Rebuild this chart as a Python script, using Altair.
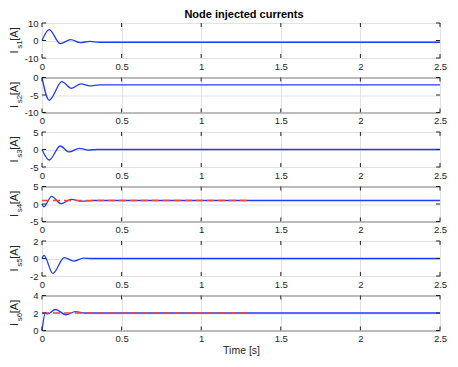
import altair as alt
import pandas as pd

# ---- data ----
xticks = [0, 0.5, 1, 1.5, 2, 2.5]

s1_t = [0, 0.045, 0.115, 0.18, 0.24, 0.30, 0.36, 0.6, 1.0, 1.5, 2.0, 2.5]
s1_v = [0, 6.2, -1.8, 0.5, -1.2, -0.5, -1.0, -1.0, -1.0, -1.0, -1.0, -1.0]

s2_t = [0, 0.045, 0.125, 0.185, 0.245, 0.30, 0.36, 0.6, 1.0, 1.5, 2.0, 2.5]
s2_v = [0, -6.5, -1.2, -3.1, -1.8, -2.4, -2.1, -2.1, -2.1, -2.1, -2.1, -2.1]

s3_t = [0, 0.045, 0.115, 0.17, 0.235, 0.29, 0.35, 0.6, 1.0, 1.5, 2.0, 2.5]
s3_v = [0, -3.0, 1.0, -0.7, 0.35, -0.15, 0.0, 0.0, 0.0, 0.0, 0.0, 0.0]

s4_t = [0, 0.012, 0.06, 0.12, 0.185, 0.25, 0.32, 0.6, 1.0, 1.5, 2.0, 2.5]
s4_v = [0, -0.8, 2.2, 0.1, 1.3, 0.8, 1.0, 1.0, 1.0, 1.0, 1.0, 1.0]
r4_t = [0, 1.3]
r4_v = [1.0, 1.0]

s5_t = [0, 0.012, 0.068, 0.14, 0.2, 0.26, 0.32, 0.6, 1.0, 1.5, 2.0, 2.5]
s5_v = [0, 0.35, -1.7, 0.1, -0.3, 0.05, 0.0, 0.0, 0.0, 0.0, 0.0, 0.0]

s6_t = [0, 0.022, 0.035, 0.085, 0.15, 0.21, 0.27, 0.6, 1.0, 1.5, 2.0, 2.5]
s6_v = [0, 2.05, 1.9, 2.4, 1.8, 2.15, 2.0, 2.0, 2.0, 2.0, 2.0, 2.0]
r6_t = [0, 1.3]
r6_v = [2.0, 2.0]

subs = ["s1", "s2", "s3", "s4", "s5", "s6"]
ydomains = [[-10, 10], [-10, 0], [-5, 5], [-5, 5], [-2, 2], [0, 4]]
yticks = [[-10, 0, 10], [-10, -5, 0], [-5, 0, 5], [-5, 0, 5], [-2, 0, 2], [0, 2, 4]]
series = [(s1_t, s1_v, None), (s2_t, s2_v, None), (s3_t, s3_v, None),
          (s4_t, s4_v, (r4_t, r4_v)), (s5_t, s5_v, None), (s6_t, s6_v, (r6_t, r6_v))]

# ---- style ----
W, H = 398, 35
FONT = "Liberation Sans"
TXT = "#262626"
BLUE = "#1f3cff"
RED = "#f0453a"
GRID = "#e2e2e2"
TICK = 4


def panel(i):
    t, v, red = series[i]
    last = i == len(series) - 1
    xaxis = alt.Axis(values=xticks, grid=True, gridColor=GRID, domain=False, ticks=False,
                     labelExpr="'' + datum.value", labelFlush=False, labelOverlap=False,
                     labelPadding=3, labelFontSize=9.5, labelColor=TXT,
                     title="Time [s]" if last else None, titleFontSize=10.5,
                     titleFontWeight="normal", titleColor=TXT, titlePadding=2)
    yaxis = alt.Axis(values=yticks[i], grid=True, gridColor=GRID, domain=False, ticks=False,
                     labelExpr="'' + datum.value", labelFlush=False, labelOverlap=False,
                     labelPadding=4, labelFontSize=9.5, labelColor=TXT, title=None)
    X = alt.X("t:Q", scale=alt.Scale(domain=[0, 2.5], nice=False, zero=False), axis=xaxis)
    Y = alt.Y("v:Q", scale=alt.Scale(domain=ydomains[i], nice=False, zero=False), axis=yaxis)

    layers = []
    layers.append(alt.Chart(pd.DataFrame({"t": t, "v": v})).mark_line(
        color=BLUE, strokeWidth=1.3, interpolate="monotone").encode(x=X, y=Y))
    if red is not None:
        layers.append(alt.Chart(pd.DataFrame({"t": red[0], "v": red[1]})).mark_line(
            color=RED, strokeWidth=1.5, strokeDash=[7, 4]).encode(x=X, y=Y))

    xt = pd.DataFrame({"t": xticks})
    yt = pd.DataFrame({"v": yticks[i]})
    layers.append(alt.Chart(xt).mark_rule(color=TXT, strokeWidth=1).encode(
        x=X, y=alt.value(H), y2=alt.value(H - TICK)))
    layers.append(alt.Chart(xt).mark_rule(color=TXT, strokeWidth=1).encode(
        x=X, y=alt.value(0), y2=alt.value(TICK)))
    layers.append(alt.Chart(yt).mark_rule(color=TXT, strokeWidth=1).encode(
        y=Y, x=alt.value(0), x2=alt.value(TICK)))
    layers.append(alt.Chart(yt).mark_rule(color=TXT, strokeWidth=1).encode(
        y=Y, x=alt.value(W - TICK), x2=alt.value(W)))

    one = pd.DataFrame({"a": [0]})
    c = H / 2
    layers.append(alt.Chart(one).mark_text(text="I", angle=270, fontSize=11, font=FONT,
                                           color=TXT).encode(x=alt.value(-27), y=alt.value(c + 11.5)))
    layers.append(alt.Chart(one).mark_text(text=subs[i], angle=270, fontSize=8, font=FONT,
                                           color=TXT).encode(x=alt.value(-22.5), y=alt.value(c + 4)))
    layers.append(alt.Chart(one).mark_text(text="[A]", angle=270, fontSize=11, font=FONT,
                                           color=TXT).encode(x=alt.value(-27), y=alt.value(c - 6.5)))
    if i == 0:
        layers.append(alt.Chart(one).mark_text(text="Node injected currents", fontSize=11,
                                               fontWeight="bold", font=FONT, color="black").encode(
            x=alt.value(W / 2 + 3), y=alt.value(-8)))
    return alt.layer(*layers).properties(width=W, height=H)


chart = alt.vconcat(*[panel(i) for i in range(6)], spacing=19.5, bounds="flush").configure_view(
    stroke=TXT, strokeWidth=1
).configure_axis(labelFont=FONT, titleFont=FONT).properties(padding=0)

chart.save("out.html", embed_options={"renderer": "svg", "actions": False})
